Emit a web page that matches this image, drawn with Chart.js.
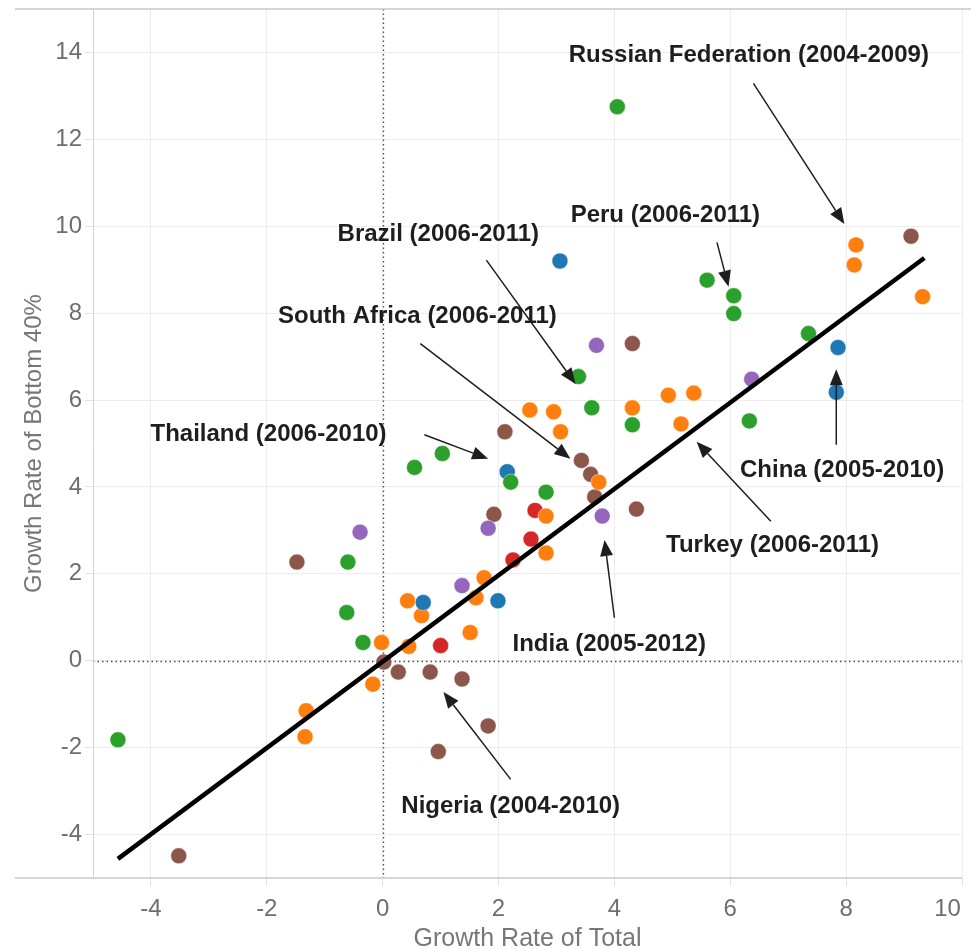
<!DOCTYPE html>
<html><head><meta charset="utf-8">
<script src="https://cdn.jsdelivr.net/npm/chart.js@4.4.1/dist/chart.umd.min.js"></script>
<style>html,body{margin:0;padding:0;background:#fff}#wrap{width:971px;height:950px}canvas{display:block}</style>
</head><body><div id="wrap"><canvas id="c" width="971" height="950"></canvas></div>
<script>
// ---- data ----
const xTickLabels = ['-4','-2','0','2','4','6','8','10'];
const yTickLabels = ['-4','-2','0','2','4','6','8','10','12','14'];

const greenX = [4.05, 5.60, 6.06, 6.06, 7.35, 3.38, 3.61, 4.31, 6.33, 0.55, 1.03, 2.21, 2.82, -0.60, -0.62, -0.34, -4.57];
const greenY = [12.75, 8.76, 8.40, 7.99, 7.53, 6.54, 5.82, 5.43, 5.52, 4.45, 4.77, 4.11, 3.88, 2.27, 1.11, 0.42, -1.82];

const blueX = [3.06, 7.86, 7.83, 2.15, 0.70, 1.99];
const blueY = [9.20, 7.21, 6.18, 4.35, 1.34, 1.38];

const orangeX = [8.17, 8.14, 9.32, 4.93, 5.37, 4.31, 5.15, 2.54, 2.95, 3.07, 3.73, 2.82, 2.82, 1.75, 1.61, 0.43, 0.67, 0.45, 1.51, -0.02, -0.17, -1.32, -1.34];
const orangeY = [9.57, 9.11, 8.38, 6.11, 6.16, 5.82, 5.45, 5.77, 5.73, 5.27, 4.11, 3.33, 2.48, 1.91, 1.45, 1.38, 1.04, 0.33, 0.65, 0.42, -0.54, -1.15, -1.75];

const redX = [2.63, 2.56, 2.25, 1.00];
const redY = [3.46, 2.80, 2.32, 0.35];

const purpleX = [3.69, 6.37, -0.39, 1.82, 3.79, 1.37];
const purpleY = [7.26, 6.48, 2.96, 3.05, 3.33, 1.73];

const brownX = [9.12, 4.31, 2.11, 3.43, 3.59, 3.66, 4.38, 1.92, -1.48, 0.02, 0.27, 0.82, 1.37, 1.82, 0.96, -3.52];
const brownY = [9.77, 7.30, 5.27, 4.61, 4.29, 3.77, 3.49, 3.37, 2.27, -0.03, -0.26, -0.26, -0.42, -1.50, -2.09, -4.49];

const trendX = [-4.57, 9.35];
const trendY = [-4.56, 9.27];

const noteLabels = ['Russian Federation (2004-2009)', 'Peru (2006-2011)', 'Brazil (2006-2011)', 'South Africa (2006-2011)', 'Thailand (2006-2010)', 'China (2005-2010)', 'Turkey (2006-2011)', 'India (2005-2012)', 'Nigeria (2004-2010)'];
const noteX = [6.32, 4.88, 0.96, 0.60, -1.97, 7.93, 6.73, 3.91, 2.21];
const noteY = [13.77, 10.09, 9.66, 7.78, 5.06, 4.24, 2.50, 0.22, -3.51];
const arrowFromX = [6.40, 5.77, 1.79, 0.65, 0.72, 7.83, 6.70, 4.00, 2.21];
const arrowFromY = [13.29, 9.63, 9.22, 7.30, 5.20, 4.97, 3.21, 0.99, -2.73];
const arrowToX = [7.97, 5.97, 3.33, 3.24, 1.82, 7.83, 5.42, 3.83, 1.05];
const arrowToY = [10.05, 8.61, 6.37, 4.65, 4.65, 6.71, 5.04, 2.78, -0.72];

// ---- build ----
const pts = (xs, ys) => xs.map((x, i) => ({x: x, y: ys[i]}));
function pointSet(label, xs, ys, color, order) {
  return {type: 'scatter', label: label, data: pts(xs, ys), backgroundColor: color,
    borderColor: 'rgba(255,255,255,0.45)', borderWidth: 1, pointRadius: 8, pointHoverRadius: 8, order: order};
}
const FONT = 'Arial, "Liberation Sans", sans-serif';
const tickFont = {family: FONT, size: 24};

const decor = {
  id: 'decor',
  beforeDatasetsDraw(chart) {
    const {ctx, chartArea: a, scales: {x, y}} = chart;
    ctx.save();
    ctx.strokeStyle = '#4a4a4a';
    ctx.lineWidth = 1.3;
    ctx.setLineDash([1.5, 3]);
    const x0 = Math.round(x.getPixelForValue(0)) + 0.5;
    const y0 = Math.round(y.getPixelForValue(0)) + 0.5;
    ctx.beginPath(); ctx.moveTo(x0, a.top); ctx.lineTo(x0, a.bottom); ctx.stroke();
    ctx.beginPath(); ctx.moveTo(a.left, y0); ctx.lineTo(a.right, y0); ctx.stroke();
    ctx.restore();
  },
  afterDraw(chart) {
    const {ctx, chartArea: a, scales: {x, y}} = chart;
    ctx.save();
    ctx.strokeStyle = '#c8c8c8';
    ctx.lineWidth = 1.5;
    ctx.beginPath(); ctx.moveTo(15, a.top); ctx.lineTo(chart.width, a.top); ctx.stroke();
    ctx.beginPath(); ctx.moveTo(15, a.bottom); ctx.lineTo(a.right, a.bottom); ctx.stroke();
    ctx.strokeStyle = '#d4d4d4';
    ctx.lineWidth = 1;
    ctx.beginPath(); ctx.moveTo(a.left + 0.5, a.top); ctx.lineTo(a.left + 0.5, a.bottom); ctx.stroke();
    ctx.fillStyle = '#1e1e1e';
    ctx.strokeStyle = '#1e1e1e';
    ctx.font = 'bold 24px ' + FONT;
    ctx.textAlign = 'center';
    ctx.textBaseline = 'alphabetic';
    noteLabels.forEach((t, i) => {
      ctx.fillText(t, x.getPixelForValue(noteX[i]), y.getPixelForValue(noteY[i]));
      const x1 = x.getPixelForValue(arrowFromX[i]), y1 = y.getPixelForValue(arrowFromY[i]);
      const x2 = x.getPixelForValue(arrowToX[i]), y2 = y.getPixelForValue(arrowToY[i]);
      const ang = Math.atan2(y2 - y1, x2 - x1);
      const L = 16, W = 6.5;
      const bx = x2 - L * Math.cos(ang), by = y2 - L * Math.sin(ang);
      ctx.lineWidth = 1.5;
      ctx.beginPath(); ctx.moveTo(x1, y1); ctx.lineTo(bx, by); ctx.stroke();
      ctx.beginPath();
      ctx.moveTo(x2, y2);
      ctx.lineTo(bx + W * Math.sin(ang), by - W * Math.cos(ang));
      ctx.lineTo(bx - W * Math.sin(ang), by + W * Math.cos(ang));
      ctx.closePath(); ctx.fill();
    });
    ctx.restore();
  }
};

new Chart(document.getElementById('c'), {
  type: 'scatter',
  data: {
    datasets: [
      {type: 'line', label: 'Trend', data: pts(trendX, trendY), borderColor: '#000', borderWidth: 4.5,
       pointRadius: 0, fill: false, tension: 0, borderCapStyle: 'butt', order: 0},
      pointSet('Green', greenX, greenY, '#2ca02c', 1),
      pointSet('Blue', blueX, blueY, '#1f77b4', 2),
      pointSet('Orange', orangeX, orangeY, '#ff7f0e', 3),
      pointSet('Red', redX, redY, '#d62728', 4),
      pointSet('Purple', purpleX, purpleY, '#9467bd', 5),
      pointSet('Brown', brownX, brownY, '#8c564b', 6)
    ]
  },
  options: {
    responsive: false, animation: false, devicePixelRatio: 1,
    layout: {padding: {top: 7, right: 6, left: 0, bottom: 0}},
    plugins: {legend: {display: false}, tooltip: {enabled: false}},
    scales: {
      x: {
        type: 'linear', min: -5, max: 10,
        afterBuildTicks: (s) => { s.ticks = xTickLabels.map(t => ({value: Number(t)})); },
        ticks: {font: tickFont, color: '#6e6e6e', padding: 9, maxRotation: 0, autoSkip: false,
          callback: (v) => { const i = xTickLabels.indexOf(String(v)); if (i < 0) return ''; return i === xTickLabels.length - 1 ? xTickLabels[i] + '\u2002\u2002\u2009' : xTickLabels[i]; }},
        grid: {color: '#ececec', tickColor: '#e2e2e2', tickLength: 8, lineWidth: 1},
        border: {display: false},
        title: {display: true, text: 'Growth Rate of Total', font: {family: FONT, size: 25, lineHeight: 0.9}, color: '#777', padding: {top: 0, bottom: 0}},
        afterFit: (s) => { s.height = 72; s.paddingLeft = 0; s.paddingRight = 0; }
      },
      y: {
        type: 'linear', min: -5, max: 15,
        afterBuildTicks: (s) => { s.ticks = yTickLabels.map(t => ({value: Number(t)})); },
        ticks: {font: tickFont, color: '#6e6e6e', padding: 3, autoSkip: false,
          callback: (v) => { const i = yTickLabels.indexOf(String(v)); return i < 0 ? '' : yTickLabels[i]; }},
        grid: {color: '#ececec', tickColor: '#e2e2e2', tickLength: 8, lineWidth: 1},
        border: {display: false},
        title: {display: true, text: 'Growth Rate of Bottom 40%', font: {family: FONT, size: 24, lineHeight: 1.2}, color: '#777', padding: {top: 20, bottom: 0}},
        afterFit: (s) => { s.width = 93; s.paddingTop = 0; s.paddingBottom = 0; }
      }
    }
  },
  plugins: [decor]
});
</script>
</body></html>
